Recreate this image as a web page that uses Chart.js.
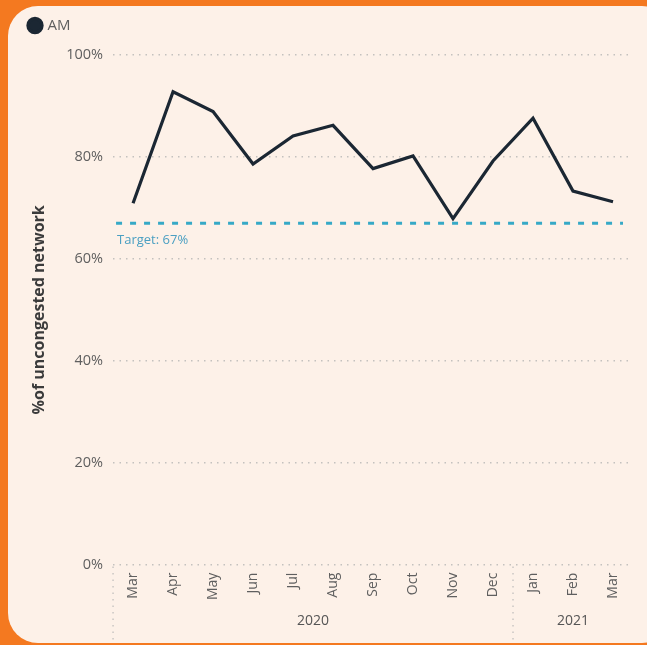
<!DOCTYPE html>
<html>
<head>
<meta charset="utf-8">
<script src="https://cdn.jsdelivr.net/npm/chart.js@4.4.0/dist/chart.umd.min.js"></script>
<style>
  html, body { margin: 0; padding: 0; }
  body { width: 647px; height: 645px; background: #f47920; position: relative; overflow: hidden; }
  .panel {
    position: absolute; left: 8px; top: 6px; width: 660px; height: 637px;
    background: #fdf1e8; border-radius: 30px 26px 26px 30px;
  }
  #chart { position: absolute; left: 0; top: 0; }
</style>
</head>
<body>
<div class="panel"></div>
<canvas id="chart" width="647" height="645"></canvas>
<script>
/* ── data ── */
const months = ["Mar","Apr","May","Jun","Jul","Aug","Sep","Oct","Nov","Dec","Jan","Feb","Mar"];
const amValues = [70.9, 92.8, 88.9, 78.6, 84.1, 86.2, 77.7, 80.2, 67.9, 79.2, 87.6, 73.3, 71.2];
const yearLabels = ["2020", "2021"];
const yearFirstIndex = [0, 10];   // first month index of each year
const targetValue = 67;
const yTicks = [0, 20, 40, 60, 80, 100];

const fontFamily = "'Segoe UI', 'Open Sans', sans-serif";
const grey = '#5f5f5f';
const teal = '#36a9c6';

/* ── a bit more room under the legend ── */
const legendGap = {
  id: 'legendGap',
  beforeInit(chart) {
    const fit = chart.legend.fit;
    chart.legend.fit = function() {
      fit.bind(chart.legend)();
      this.height += 12;
    };
  }
};

/* ── target line, year row and separators ── */
const extras = {
  id: 'extras',
  afterDatasetsDraw(chart) {
    const ctx = chart.ctx;
    const y = chart.scales.y;
    const area = chart.chartArea;
    const ty = y.getPixelForValue(targetValue);

    ctx.save();
    ctx.strokeStyle = teal;
    ctx.lineWidth = 3;
    ctx.setLineDash([6, 8]);
    ctx.beginPath();
    ctx.moveTo(area.left + 3, ty);
    ctx.lineTo(area.right - 10, ty);
    ctx.stroke();

    ctx.setLineDash([]);
    ctx.fillStyle = '#4a9fc2';
    ctx.font = "13px " + fontFamily;
    ctx.textAlign = 'left';
    ctx.textBaseline = 'top';
    ctx.fillText('Target: ' + targetValue + '%', area.left + 4, ty + 11);
    ctx.restore();
  },
  afterDraw(chart) {
    const ctx = chart.ctx;
    const x = chart.scales.x;
    const area = chart.chartArea;
    const half = (x.getPixelForValue(1) - x.getPixelForValue(0)) / 2;
    const bottom = 640;

    ctx.save();
    ctx.strokeStyle = '#c9c6c3';
    ctx.lineWidth = 1.5;
    ctx.setLineDash([1.5, 5]);
    yearFirstIndex.forEach(i => {
      const px = x.getPixelForValue(i) - half;
      ctx.beginPath();
      ctx.moveTo(px, area.bottom + 2);
      ctx.lineTo(px, bottom);
      ctx.stroke();
    });

    ctx.fillStyle = '#555555';
    ctx.font = "14px " + fontFamily;
    ctx.textAlign = 'center';
    ctx.textBaseline = 'middle';
    yearLabels.forEach((lbl, k) => {
      const first = yearFirstIndex[k];
      const last = k + 1 < yearFirstIndex.length ? yearFirstIndex[k + 1] - 1 : months.length - 1;
      const cx = (x.getPixelForValue(first) + x.getPixelForValue(last)) / 2;
      ctx.fillText(lbl, cx, 621);
    });
    ctx.restore();
  }
};

new Chart(document.getElementById('chart'), {
  type: 'line',
  data: {
    labels: months,
    datasets: [{
      label: 'AM',
      data: amValues,
      borderColor: '#1b2733',
      backgroundColor: '#1b2733',
      borderWidth: 3.2,
      pointRadius: 0,
      tension: 0
    }]
  },
  options: {
    responsive: false,
    animation: false,
    layout: { padding: { left: 20, top: 8, right: 14, bottom: 37 } },
    plugins: {
      legend: {
        position: 'top',
        align: 'start',
        labels: {
          usePointStyle: true,
          pointStyle: 'circle',
          boxWidth: 10,
          boxHeight: 10,
          color: grey,
          font: { size: 15, family: fontFamily },
          padding: 10
        }
      },
      tooltip: { enabled: false }
    },
    scales: {
      x: {
        offset: true,
        border: { display: false },
        grid: { display: false, drawTicks: false },
        ticks: {
          color: grey,
          font: { size: 14, family: fontFamily },
          maxRotation: 90,
          minRotation: 90,
          padding: 8,
          autoSkip: false
        }
      },
      y: {
        min: 0,
        max: 100,
        border: { display: false, dash: [1.5, 5] },
        afterBuildTicks(axis) { axis.ticks = yTicks.map(v => ({ value: v })); },
        grid: {
          color: '#c4c1be',
          lineWidth: 1.5,
          drawTicks: false
        },
        ticks: {
          color: grey,
          font: { size: 14.5, family: fontFamily },
          padding: 10,
          callback: v => v + '%'
        },
        title: {
          display: true,
          text: '%of uncongested network',
          color: '#3b3b3b',
          font: { size: 16, weight: 'bold', family: fontFamily },
          padding: { top: 10, bottom: 7 }
        }
      }
    }
  },
  plugins: [legendGap, extras]
});
</script>
</body>
</html>
